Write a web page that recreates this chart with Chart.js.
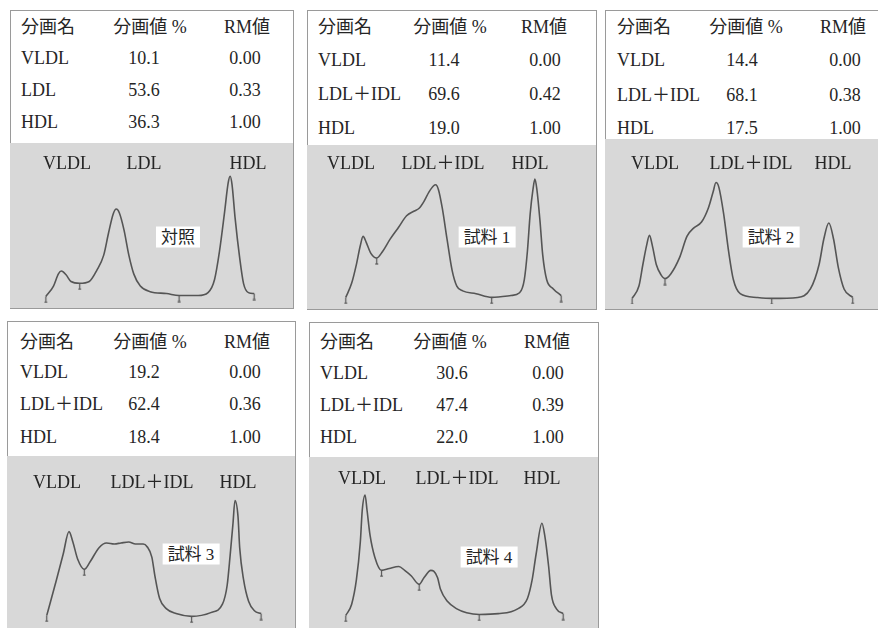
<!DOCTYPE html>
<html>
<head>
<meta charset="utf-8">
<script src="https://cdn.jsdelivr.net/npm/chart.js"></script>
<style>
  html, body { margin: 0; padding: 0; background: #fff; }
  body { width: 878px; height: 628px; position: relative; overflow: hidden; color: #252525; }
  .panel { position: absolute; box-sizing: border-box; border: 1px solid #9a9a9a; background: #fff; }
  .gray { position: absolute; background: #d8d8d8; }
  .t { position: absolute; font-family: "Liberation Serif", "DejaVu Serif", "Times New Roman", "Noto Sans CJK JP", serif;
       font-size: 18px; line-height: 1; white-space: nowrap; transform: translateY(-50%); }
  .c { transform: translate(-50%, -50%); }
  .box { background: #fff; font-size: 17px; padding: 2px 5px; }
  canvas { position: absolute; }
</style>
</head>
<body>
<script>
// 分画 (fraction) names
const namesCtrl = ['VLDL', 'LDL', 'HDL'];
const namesTest = ['VLDL', 'LDL＋IDL', 'HDL'];
const sampleNames = ['対照', '試料 1', '試料 2', '試料 3', '試料 4'];
const pct1 = [10.1, 53.6, 36.3];
const pct2 = [11.4, 69.6, 19.0];
const pct3 = [14.4, 68.1, 17.5];
const pct4 = [19.2, 62.4, 18.4];
const pct5 = [30.6, 47.4, 22.0];
const rm1 = [0.00, 0.33, 1.00];
const rm2 = [0.00, 0.42, 1.00];
const rm3 = [0.00, 0.38, 1.00];
const rm4 = [0.00, 0.36, 1.00];
const rm5 = [0.00, 0.39, 1.00];

// densitometry traces: mobility (0-100) vs absorbance (0-100)
const mob1 = [11.3,14.1,15.9,17.0,18.7,20.5,23.7,27.2,30.0,32.5,34.3,36.0,37.1,38.2,39.9,41.7,43.5,45.9,49.5,55.5,60.1,67.1,70.7,73.1,74.9,76.7,78.1,78.8,79.5,80.6,82.3,83.7,85.5,87.6];
const abs1 = [4.2,10.9,18.8,20.6,18.2,13.9,12.7,13.9,21.2,30.9,45.5,57.6,60.6,58.2,47.3,30.9,18.8,10.9,7.3,6.1,4.8,4.8,6.7,15.2,33.3,57.6,77.6,81.8,76.4,55.2,29.1,12.7,6.7,6.1];
const mob2 = [12.1,14.2,15.9,17.3,18.3,19.4,21.1,23.2,25.3,28.0,31.1,33.9,36.7,38.4,40.1,41.9,43.6,44.3,45.3,46.7,48.4,50.2,51.9,54.0,58.8,64.4,71.3,74.4,76.1,77.2,78.2,79.2,79.9,80.6,81.7,82.7,84.1,86.5,89.3];
const abs2 = [4.3,13.4,25.6,37.8,43.9,40.2,32.9,29.9,34.1,42.1,50.0,57.3,60.4,62.2,66.5,72.6,76.8,77.4,74.4,62.2,42.1,22.0,11.6,8.5,6.7,4.3,5.5,7.3,15.9,34.1,58.5,74.4,81.1,74.4,54.3,31.7,15.9,9.8,5.5];
const mob3 = [8.4,11.0,12.5,13.9,15.0,16.1,17.6,19.4,20.9,23.1,26.4,29.3,31.9,34.8,37.4,39.2,40.3,41.4,43.2,45.1,46.9,49.5,55.7,61.5,71.4,76.2,79.5,81.3,83.2,85.0,86.8,89.0,92.3];
const abs3 = [3.5,11.2,24.7,36.5,42.9,36.5,24.7,18.2,15.9,18.8,28.8,42.4,47.6,51.2,60.0,70.0,75.9,72.9,56.5,32.9,15.3,6.5,4.1,3.5,4.1,9.4,24.7,40.6,50.6,40.6,22.9,9.4,4.1];
const mob4 = [12.5,13.9,16.0,18.4,20.5,21.9,23.6,26.0,28.1,31.3,34.0,36.8,39.2,42.0,44.4,47.2,48.6,50.3,51.4,53.1,55.6,59.0,64.6,71.5,75.7,77.4,78.5,79.5,80.2,81.3,81.9,83.3,85.1,87.2,89.6];
const abs4 = [4.7,13.4,26.7,42.4,56.4,50.0,39.5,33.1,37.8,46.5,49.4,48.8,49.4,50.0,48.8,48.8,47.1,40.7,29.1,15.1,8.7,5.8,4.1,6.4,11.6,23.3,42.4,61.6,75.6,65.7,46.5,26.7,13.4,7.6,5.8];
const mob5 = [11.4,13.5,15.2,16.6,17.3,18.3,19.0,20.1,21.8,24.2,27.0,30.4,32.5,34.9,37.7,39.4,41.9,42.9,44.3,45.3,47.8,51.2,54.7,59.2,66.1,73.0,76.5,78.2,79.6,81.7,82.7,84.1,85.1,86.9,89.3];
const abs5 = [4.7,11.7,26.9,50.3,70.2,79.5,70.2,54.4,40.9,32.7,33.9,35.1,32.7,29.2,24.0,28.1,32.7,32.2,28.1,21.1,13.5,8.8,6.4,5.3,5.8,8.8,15.2,26.9,42.7,62.0,54.4,35.1,17.5,8.8,5.8];

// fraction boundary marks
const bnd1X = [11.3, 23.7, 60.1, 87.6], bnd1Y = [4.2, 12.7, 4.8, 6.1];
const bnd2X = [12.1, 23.2, 64.4, 89.3], bnd2Y = [4.3, 29.9, 4.3, 5.5];
const bnd3X = [8.4, 20.9, 61.5, 92.3],  bnd3Y = [3.5, 15.9, 3.5, 4.1];
const bnd4X = [12.5, 26.0, 64.6, 89.6], bnd4Y = [4.7, 33.1, 4.1, 5.8];
const bnd5X = [11.4, 24.2, 37.7, 59.2, 89.3], bnd5Y = [4.7, 32.7, 24.0, 5.3, 5.8];

// layout of each panel (page pixels)
const panels = [
  { names: namesCtrl, pct: pct1, rm: rm1, mob: mob1, abs: abs1, bx: bnd1X, by: bnd1Y,
    box: [10, 10, 284, 299], gray: [10, 143, 283, 165],
    head: 27, rows: [58, 90, 122], c1: 21, c2h: 150, c2: 144, c3h: 247, c3: 245,
    lblY: 163, lblX: [67, 144, 248], tag: [178, 237] },
  { names: namesTest, pct: pct2, rm: rm2, mob: mob2, abs: abs2, bx: bnd2X, by: bnd2Y,
    box: [307, 10, 290, 300], gray: [307, 145, 289, 164],
    head: 27, rows: [60, 94, 128], c1: 318, c2h: 450, c2: 444, c3h: 544, c3: 545,
    lblY: 163, lblX: [351, 443, 530], tag: [487, 237] },
  { names: namesTest, pct: pct3, rm: rm3, mob: mob3, abs: abs3, bx: bnd3X, by: bnd3Y,
    box: [605, 10, 280, 300], gray: [605, 139, 273, 170],
    head: 27, rows: [60, 95, 128], c1: 617, c2h: 746, c2: 742, c3h: 843, c3: 845,
    lblY: 163, lblX: [655, 751, 833], tag: [771, 237] },
  { names: namesTest, pct: pct4, rm: rm4, mob: mob4, abs: abs4, bx: bnd4X, by: bnd4Y,
    box: [7, 321, 289, 320], gray: [7, 456, 288, 172],
    head: 342, rows: [372, 404, 437], c1: 20, c2h: 150, c2: 144, c3h: 247, c3: 245,
    lblY: 482, lblX: [57, 152, 238], tag: [191, 554] },
  { names: namesTest, pct: pct5, rm: rm5, mob: mob5, abs: abs5, bx: bnd5X, by: bnd5Y,
    box: [309, 322, 290, 320], gray: [309, 457, 289, 171],
    head: 342, rows: [373, 405, 437], c1: 320, c2h: 450, c2: 452, c3h: 547, c3: 548,
    lblY: 478, lblX: [362, 457, 542], tag: [489, 557] }
];

const lineColor = '#555';

// little hanging tick used for the fraction boundaries
const tickImg = document.createElement('canvas');
tickImg.width = 5; tickImg.height = 14;
(function () {
  const g = tickImg.getContext('2d');
  g.strokeStyle = lineColor; g.lineWidth = 1.2;
  g.beginPath(); g.moveTo(2.5, 7); g.lineTo(2.5, 13); g.stroke();
  g.beginPath(); g.moveTo(1, 13); g.lineTo(4, 13); g.stroke();
})();

function addDiv(cls, l, t, w, h) {
  const d = document.createElement('div');
  d.className = cls;
  d.style.left = l + 'px'; d.style.top = t + 'px';
  d.style.width = w + 'px'; d.style.height = h + 'px';
  document.body.appendChild(d);
  return d;
}

function addText(txt, x, y, center, extra) {
  const s = document.createElement('span');
  s.className = 't' + (center ? ' c' : '') + (extra ? ' ' + extra : '');
  s.textContent = txt;
  s.style.left = x + 'px'; s.style.top = y + 'px';
  document.body.appendChild(s);
  return s;
}

panels.forEach(function (p, i) {
  addDiv('panel', p.box[0], p.box[1], p.box[2], p.box[3]);
  addDiv('gray', p.gray[0], p.gray[1], p.gray[2], p.gray[3]);

  // table
  addText('分画名', p.c1, p.head, false);
  addText('分画値 %', p.c2h, p.head, true);
  addText('RM値', p.c3h, p.head, true);
  p.names.forEach(function (n, k) {
    addText(n, p.c1, p.rows[k], false);
    addText(p.pct[k].toFixed(1), p.c2, p.rows[k], true);
    addText(p.rm[k].toFixed(2), p.c3, p.rows[k], true);
  });

  // curve
  const cv = document.createElement('canvas');
  cv.width = p.gray[2]; cv.height = p.gray[3];
  cv.style.left = p.gray[0] + 'px'; cv.style.top = p.gray[1] + 'px';
  document.body.appendChild(cv);

  const pts = p.mob.map(function (x, k) { return { x: x, y: p.abs[k] }; });
  const marks = p.bx.map(function (x, k) { return { x: x, y: p.by[k] }; });

  new Chart(cv.getContext('2d'), {
    type: 'line',
    data: {
      datasets: [{
        data: pts,
        borderColor: lineColor,
        borderWidth: 1.6,
        pointRadius: 0,
        cubicInterpolationMode: 'monotone',
        fill: false
      }, {
        data: marks,
        showLine: false,
        pointStyle: tickImg,
        pointRadius: 4
      }]
    },
    options: {
      responsive: false,
      animation: false,
      events: [],
      layout: { padding: 0 },
      plugins: { legend: { display: false }, tooltip: { enabled: false } },
      scales: {
        x: { type: 'linear', min: 0, max: 100, display: false },
        y: { min: 0, max: 100, display: false }
      }
    }
  });

  // fraction labels in the gray area
  const lbl = i === 0 ? namesCtrl : namesTest;
  lbl.forEach(function (n, k) { addText(n, p.lblX[k], p.lblY, true); });
  addText(sampleNames[i], p.tag[0], p.tag[1], true, 'box');
});
</script>
</body>
</html>
